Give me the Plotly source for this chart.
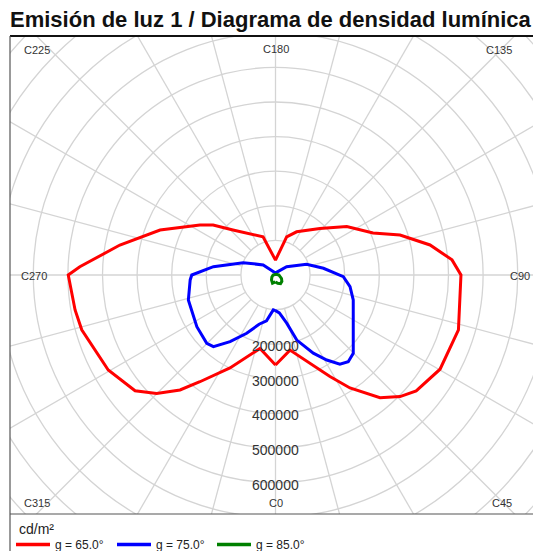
import numpy as np
import plotly.graph_objects as go

# ---- data (C-plane angle in degrees, luminance in cd/m²) ----
C_g65 = [0, 10.9, 28.2, 33.4, 40.4, 45.7, 50.5, 60.2, 73.3, 90, 94.9, 101, 107.8, 113.3, 124.2,
         136.4, 153.9, 163.7, 180, 198.1, 223.4, 231.3, 236.5, 248.7, 259.1, 267.6, 270, 279.9,
         285.8, 299.6, 309.5, 314.9, 320.3, 324.7, 333.9, 348.1]
L_g65 = [260000, 221000, 333000, 391000, 466000, 503000, 527000, 548000, 552000, 536000, 512000,
         455000, 378000, 307000, 249000, 186000, 139000, 115000, 43000, 116000, 179000, 231000,
         262000, 358000, 458000, 566000, 599000, 588000, 582000, 556000, 526000, 485000, 432000,
         378000, 299000, 217000]

C_g75 = [0, 5.8, 13.1, 18.1, 25.8, 31.1, 35.8, 40.0, 44.8, 53.1, 72.2, 81.1, 88.6, 98, 108.9,
         126.5, 180, 230.7, 249.1, 262.4, 270, 273.3, 286, 303.3, 314.8, 319.1, 325.7, 333.7,
         341.6, 348.9, 356.4]
L_g75 = [103000, 110000, 143000, 198000, 251000, 287000, 318000, 327000, 319000, 281000, 236000,
         218000, 196000, 140000, 95000, 40000, 6000, 46000, 100000, 181000, 242000, 247000,
         262000, 272000, 280000, 274000, 233000, 188000, 150000, 135000, 101000]

C_g85 = [0, 15, 30, 45, 60, 90, 135, 180, 225, 270, 300, 320, 340, 350]
L_g85 = [20000, 25000, 29000, 26000, 20000, 10000, 3000, 2000, 3000, 7000, 12000, 18000, 25000, 23000]

series_names = ["g = 65.0°", "g = 75.0°", "g = 85.0°"]
series_colors = ["#ff0000", "#0000ff", "#008000"]
legend_title = "cd/m²"

ring_values = [100000 * i for i in range(1, 12)]
ring_labels = [200000, 300000, 400000, 500000, 600000]
spoke_angles = list(range(0, 360, 15))
c_labels = ["C0", "C45", "C90", "C135", "C180", "C225", "C270", "C315"]

# ---- geometry ----
W, H = 533, 551
ML, MR, MT, MB = 10, 0, 36, 37
CX, CY = 275.5, 275.0          # centre in pixels
K = 34.6                        # pixels per 100000 cd/m²
unit = 100000.0 / K
x_range = [(ML - CX) * unit, (W - MR - CX) * unit]
y_range = [-(H - MB - CY) * unit, (CY - MT) * unit]
pw, ph = W - ML - MR, H - MT - MB


def px(xp):
    return (xp - ML) / pw


def py(yp):
    return (H - MB - yp) / ph


def to_xy(C, L):
    t = np.deg2rad(np.asarray(C, dtype=float))
    r = np.asarray(L, dtype=float)
    return r * np.sin(t), -r * np.cos(t)


fig = go.Figure()

shapes = []
grid_col = "#d4d4d4"
for rv in ring_values:
    shapes.append(dict(type="circle", xref="x", yref="y", x0=-rv, x1=rv, y0=-rv, y1=rv,
                       line=dict(color=grid_col, width=1.3), layer="below"))
r_in, r_out = ring_values[0], ring_values[-1] * 1.2
for a in spoke_angles:
    (xa, xb), (ya, yb) = to_xy([a, a], [r_in, r_out])
    shapes.append(dict(type="line", xref="x", yref="y", x0=xa, y0=ya, x1=xb, y1=yb,
                       line=dict(color=grid_col, width=1.3), layer="below"))

# frame
shapes.append(dict(type="line", xref="paper", yref="paper", x0=0, x1=1.1, y0=1, y1=1,
                   line=dict(color="#111111", width=2)))
shapes.append(dict(type="line", xref="paper", yref="paper", x0=0, x1=1.1, y0=0, y1=0,
                   line=dict(color="#555555", width=1.2)))
shapes.append(dict(type="line", xref="paper", yref="paper", x0=0, x1=0, y0=-0.2, y1=1,
                   line=dict(color="#555555", width=1.2)))

for C, L, name, col in zip([C_g65, C_g75, C_g85], [L_g65, L_g75, L_g85], series_names, series_colors):
    Cc = list(C) + [C[0]]
    Lc = list(L) + [L[0]]
    x, y = to_xy(Cc, Lc)
    fig.add_trace(go.Scatter(x=x, y=y, mode="lines", name=name, showlegend=False,
                             line=dict(color=col, width=3), hoverinfo="skip"))

annotations = []
for v in ring_labels:
    annotations.append(dict(x=0, y=-v, xref="x", yref="y", text=str(v), showarrow=False,
                            font=dict(size=14, color="#333333"), xanchor="center", yanchor="middle",
                            yshift=-2))

label_pos = {
    "C180": (276, 48.5, "center"),
    "C0": (276, 503, "center"),
    "C270": (19, 276, "left"),
    "C90": (532, 276, "right"),
    "C225": (22, 49.5, "left"),
    "C135": (514, 49.5, "right"),
    "C315": (22, 503, "left"),
    "C45": (514, 503, "right"),
}
for lab in c_labels:
    xp_, yp_, anc = label_pos[lab]
    annotations.append(dict(x=px(xp_), y=py(yp_), xref="paper", yref="paper", text=lab,
                            showarrow=False, font=dict(size=11, color="#333333"),
                            xanchor=anc, yanchor="middle"))

# legend (drawn manually below the frame)
annotations.append(dict(x=px(17), y=py(529), xref="paper", yref="paper", text=legend_title,
                        showarrow=False, font=dict(size=14, color="#222222"),
                        xanchor="left", yanchor="middle"))
leg_x = [16, 117, 217]
for lx, name, col in zip(leg_x, series_names, series_colors):
    shapes.append(dict(type="line", xref="paper", yref="paper", x0=px(lx), x1=px(lx + 34),
                       y0=py(544.5), y1=py(544.5), line=dict(color=col, width=3.5)))
    annotations.append(dict(x=px(lx + 37), y=py(544.5), xref="paper", yref="paper", text=name,
                            showarrow=False, font=dict(size=12, color="#222222"),
                            xanchor="left", yanchor="middle"))

fig.update_layout(
    width=W, height=H, autosize=False,
    margin=dict(l=ML, r=MR, t=MT, b=MB),
    paper_bgcolor="white", plot_bgcolor="white",
    font=dict(family="Arial, Liberation Sans, sans-serif", color="#222222"),
    title=dict(text="<b>Emisión de luz 1 / Diagrama de densidad lumínica</b>",
               x=10 / W, xanchor="left", y=1 - 19 / H, yanchor="middle",
               font=dict(size=22, color="#111111")),
    xaxis=dict(range=x_range, visible=False, fixedrange=True),
    yaxis=dict(range=y_range, visible=False, fixedrange=True),
    shapes=shapes,
    annotations=annotations,
    showlegend=False,
)

fig.write_html(
    "out.html",
    config={"responsive": False, "displayModeBar": False},
    post_script="document.body.style.margin='0';document.body.style.padding='0';"
                "document.documentElement.style.overflow='hidden';document.body.style.overflow='hidden';",
)
